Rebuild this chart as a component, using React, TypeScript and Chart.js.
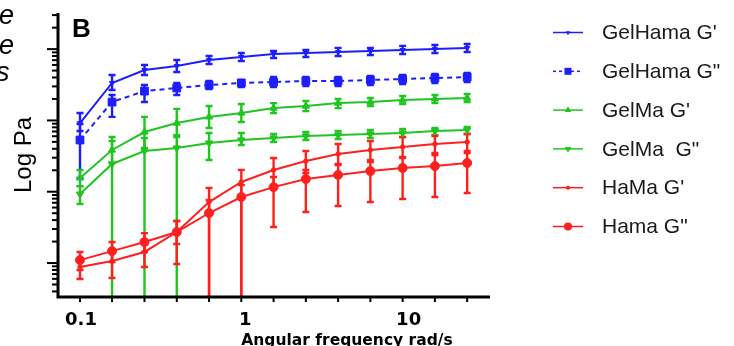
import React, { useEffect, useRef } from "react";
import { Chart, registerables } from "chart.js";

Chart.register(...registerables);

// Angular frequency (rad/s) of each measured point
const frequency = [0.1, 0.158, 0.251, 0.398, 0.631, 1.0, 1.585, 2.512, 3.981, 6.31, 10, 15.85, 25.12];
const xTickValues = [0.1, 1, 10];
const xTickLabels = ["0.1", "1", "10"];

const seriesLabels = ["GelHama G'", 'GelHama G"', "GelMa G'", 'GelMa  G"', "HaMa G'", 'Hama G"'];

// Mean values (Pa) and error bar ends (0 = bar runs below the axis)
const gelhamaStorage = [919, 3350, 5090, 5790, 7030, 7750, 8540, 8820, 9110, 9410, 9710, 10000, 10400];
const gelhamaStorageHi = [1270, 4330, 5980, 7030, 8000, 8820, 9410, 9710, 10400, 10400, 11100, 11400, 11800];
const gelhamaStorageLo = [710, 2670, 4330, 4770, 6180, 6810, 7500, 7750, 8000, 8270, 8540, 8820, 9110];

const gelhamaLoss = [531, 1810, 2580, 2850, 3140, 3350, 3460, 3570, 3570, 3690, 3810, 3930, 4060];
const gelhamaLossHi = [890, 2270, 3140, 3350, 3570, 3690, 4060, 4060, 4060, 4190, 4330, 4470, 4620];
const gelhamaLossLo = [156, 1120, 1810, 2270, 2760, 2940, 2940, 3040, 3040, 3140, 3240, 3350, 3460];

const gelmaStorage = [156, 385, 688, 919, 1120, 1270, 1490, 1590, 1750, 1810, 1930, 2000, 2060];
const gelmaStorageHi = [202, 585, 1120, 1450, 1590, 1700, 1750, 1870, 2000, 2060, 2200, 2270, 2350];
const gelmaStorageLo = [120, 253, 410, 585, 782, 950, 1270, 1350, 1490, 1590, 1700, 1750, 1810];

const gelmaLoss = [92.8, 245, 372, 410, 482, 531, 566, 604, 624, 645, 666, 710, 733];
const gelmaLossHi = [120, 514, 566, 624, 666, 666, 645, 688, 710, 733, 758, 782, 808];
const gelmaLossLo = [67.2, 0, 0, 0, 278, 452, 498, 531, 548, 566, 585, 624, 645];

const hamaStorage = [8.79, 10.7, 14.3, 27.2, 71.7, 137, 202, 269, 338, 385, 424, 467, 498];
const hamaStorageHi = [11.4, 15.2, 20.3, 38.8, 113, 202, 297, 372, 467, 514, 585, 604, 645];
const hamaStorageLo = [5.96, 6.16, 8.79, 9.68, 0, 0, 124, 183, 237, 278, 307, 349, 372];

const hamaLoss = [11.0, 14.7, 19.7, 27.2, 50.3, 84.3, 116, 151, 172, 195, 215, 229, 253];
const hamaLossHi = [14.3, 19.7, 26.3, 38.8, 76.5, 124, 161, 202, 245, 261, 297, 327, 349];
const hamaLossLo = [7.98, 10.3, 14.3, 18.5, 0, 0, 32.0, 51.9, 63.0, 71.7, 79.0, 84.3, 95.9];

const BLUE = "#1d1dff";
const GREEN = "#22c322";
const RED = "#ff1f1f";

type Series = {
  label: string;
  data: number[];
  hi: number[];
  lo: number[];
  color: string;
  dash: number[];
  style: string;
  rotation: number;
  radius: number;
};

const series: Series[] = [
  { label: seriesLabels[0], data: gelhamaStorage, hi: gelhamaStorageHi, lo: gelhamaStorageLo, color: BLUE, dash: [], style: "triangle", rotation: 180, radius: 3 },
  { label: seriesLabels[1], data: gelhamaLoss, hi: gelhamaLossHi, lo: gelhamaLossLo, color: BLUE, dash: [5, 4], style: "rect", rotation: 0, radius: 5.5 },
  { label: seriesLabels[2], data: gelmaStorage, hi: gelmaStorageHi, lo: gelmaStorageLo, color: GREEN, dash: [], style: "triangle", rotation: 0, radius: 4.2 },
  { label: seriesLabels[3], data: gelmaLoss, hi: gelmaLossHi, lo: gelmaLossLo, color: GREEN, dash: [], style: "triangle", rotation: 180, radius: 4.2 },
  { label: seriesLabels[4], data: hamaStorage, hi: hamaStorageHi, lo: hamaStorageLo, color: RED, dash: [], style: "circle", rotation: 0, radius: 2.2 },
  { label: seriesLabels[5], data: hamaLoss, hi: hamaLossHi, lo: hamaLossLo, color: RED, dash: [], style: "circle", rotation: 0, radius: 4.5 },
];

function drawMarker(ctx: CanvasRenderingContext2D, s: Series, x: number, y: number) {
  ctx.save();
  ctx.fillStyle = s.color;
  ctx.beginPath();
  const r = s.radius;
  if (s.style === "circle") {
    ctx.arc(x, y, r, 0, Math.PI * 2);
  } else if (s.style === "rect") {
    const h = r * Math.SQRT1_2;
    ctx.rect(x - h, y - h, 2 * h, 2 * h);
  } else {
    const dir = s.rotation === 180 ? -1 : 1;
    ctx.moveTo(x, y - dir * r);
    ctx.lineTo(x + r * 0.866, y + dir * r * 0.5);
    ctx.lineTo(x - r * 0.866, y + dir * r * 0.5);
    ctx.closePath();
  }
  ctx.fill();
  ctx.restore();
}

const decorPlugin = {
  id: "decor",
  beforeDatasetsDraw(chart: any) {
    const { ctx, chartArea: a, scales } = chart;
    const ys = scales.y;
    ctx.save();
    ctx.lineCap = "butt";
    series.forEach((s, i) => {
      const meta = chart.getDatasetMeta(i);
      ctx.strokeStyle = s.color;
      ctx.lineWidth = 2.4;
      meta.data.forEach((pt: any, j: number) => {
        const x = pt.x;
        const yHi = Math.max(a.top, ys.getPixelForValue(s.hi[j]));
        const loClipped = !(s.lo[j] > ys.min);
        const yLo = loClipped ? a.bottom : ys.getPixelForValue(s.lo[j]);
        ctx.beginPath();
        ctx.moveTo(x, yHi);
        ctx.lineTo(x, yLo);
        ctx.stroke();
        ctx.beginPath();
        ctx.moveTo(x - 3.5, yHi);
        ctx.lineTo(x + 3.5, yHi);
        if (!loClipped) {
          ctx.moveTo(x - 3.5, yLo);
          ctx.lineTo(x + 3.5, yLo);
        }
        ctx.stroke();
      });
    });
    ctx.restore();
  },
  afterDraw(chart: any) {
    const { ctx, chartArea: a, scales } = chart;
    const xs = scales.x;
    const ys = scales.y;
    ctx.save();
    ctx.strokeStyle = "#000";
    ctx.fillStyle = "#000";

    // axis lines
    const axX = a.left - 1;
    ctx.lineWidth = 3;
    ctx.beginPath();
    ctx.moveTo(axX, a.top);
    ctx.lineTo(axX, a.bottom + 1.5);
    ctx.moveTo(axX - 1.5, a.bottom);
    ctx.lineTo(a.right, a.bottom);
    ctx.stroke();

    // y ticks (log, major + minor)
    ctx.lineWidth = 2;
    for (let d = 0; d <= 4; d++) {
      for (let m = 1; m <= 9; m++) {
        const v = m * Math.pow(10, d);
        if (v < ys.min || v > ys.max) continue;
        const y = ys.getPixelForValue(v);
        const len = m === 1 ? 11 : 6;
        ctx.beginPath();
        ctx.moveTo(axX - len, y);
        ctx.lineTo(axX, y);
        ctx.stroke();
      }
    }

    // x ticks at each measured frequency
    frequency.forEach((f) => {
      const x = xs.getPixelForValue(f);
      ctx.beginPath();
      ctx.moveTo(x, a.bottom);
      ctx.lineTo(x, a.bottom + 5);
      ctx.stroke();
    });

    // x tick labels
    const labelShift = [1, 4, 6];
    ctx.font = 'bold 18px "DejaVu Sans"';
    ctx.textAlign = "center";
    ctx.textBaseline = "alphabetic";
    xTickValues.forEach((v, i) => {
      ctx.fillText(xTickLabels[i], xs.getPixelForValue(v) + labelShift[i], a.bottom + 28);
    });

    // axis titles
    ctx.font = 'bold 15.5px "DejaVu Sans"';
    ctx.fillText("Angular frequency rad/s", 347, 344.5);

    ctx.save();
    ctx.translate(31, 155);
    ctx.rotate(-Math.PI / 2);
    ctx.font = '24px "Liberation Sans", Arial';
    ctx.textAlign = "center";
    ctx.fillText("Log Pa", 0, 0);
    ctx.restore();

    // panel letter
    ctx.textAlign = "left";
    ctx.font = 'bold 26px "Liberation Sans", Arial';
    ctx.fillText("B", 72, 37);

    // cut-off text of the neighbouring panel
    ctx.font = 'italic 27px "Liberation Sans", Arial';
    ctx.fillText("e", -1, 24);
    ctx.fillText("e", -1, 54);
    ctx.fillText("s", -4, 81);

    // legend
    const rowTop = 32.5;
    const rowStep = 38.8;
    series.forEach((s, i) => {
      const y = rowTop + i * rowStep;
      ctx.save();
      ctx.strokeStyle = s.color;
      ctx.lineWidth = 1.5;
      ctx.setLineDash(s.dash.length ? [3, 3] : []);
      ctx.beginPath();
      ctx.moveTo(553, y);
      ctx.lineTo(583, y);
      ctx.stroke();
      ctx.restore();
      drawMarker(ctx, { ...s, radius: Math.max(2, s.radius * 0.9) }, 568, y);
      ctx.fillStyle = "#1a1a1a";
      ctx.font = '21px "Liberation Sans", Arial';
      ctx.textAlign = "left";
      ctx.textBaseline = "middle";
      ctx.fillText(s.label, 602, y + 1);
    });
    ctx.restore();
  },
};

export default function App() {
  const canvasRef = useRef<HTMLCanvasElement | null>(null);

  useEffect(() => {
    if (!canvasRef.current) return;
    const chart = new Chart(canvasRef.current, {
      type: "line",
      data: {
        datasets: series.map((s) => ({
          label: s.label,
          data: frequency.map((f, j) => ({ x: f, y: s.data[j] })),
          borderColor: s.color,
          backgroundColor: s.color,
          borderWidth: 2,
          borderDash: s.dash,
          pointStyle: s.style as any,
          pointRotation: s.rotation,
          pointRadius: s.radius,
          pointBorderWidth: 1,
          pointBackgroundColor: s.color,
          pointBorderColor: s.color,
          tension: 0,
          fill: false,
        })),
      },
      options: {
        animation: false,
        responsive: false,
        devicePixelRatio: 1,
        events: [],
        layout: { padding: { left: 59, right: 244, top: 13, bottom: 49 } },
        scales: {
          x: { type: "logarithmic", min: 0.0741, max: 34.8, display: false },
          y: { type: "logarithmic", min: 3.34, max: 32100, display: false },
        },
        plugins: {
          legend: { display: false },
          tooltip: { enabled: false },
        },
      },
      plugins: [decorPlugin],
    });
    return () => chart.destroy();
  }, []);

  return (
    <div style={{ position: "fixed", left: 0, top: 0, width: 734, height: 346, background: "#fff" }}>
      <canvas ref={canvasRef} width={734} height={346} style={{ display: "block" }} />
    </div>
  );
}
